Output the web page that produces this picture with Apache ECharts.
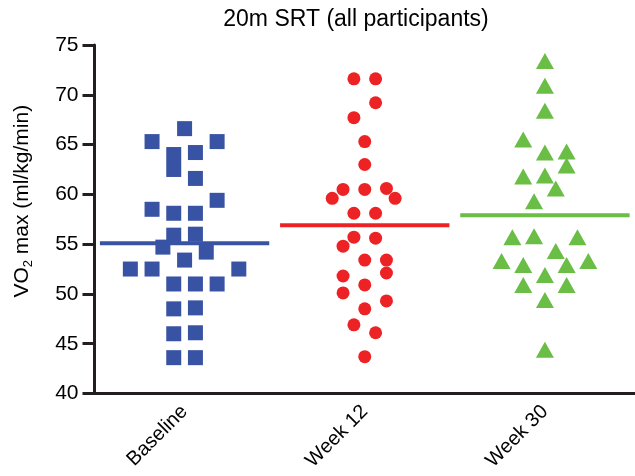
<!DOCTYPE html>
<html>
<head>
<meta charset="utf-8">
<script src="https://cdn.jsdelivr.net/npm/echarts@6/dist/echarts.min.js"></script>
<style>
  html, body { margin: 0; padding: 0; background: #fff; }
  #chart { width: 635px; height: 476px; }
</style>
</head>
<body>
<div id="chart"></div>
<script>
// groups on the x axis
var categories = ['Baseline', 'Week 12', 'Week 30'];

// y values, with the column (lane) each mark sits in
var baselineY = [66.6, 65.3, 65.3, 64.0, 62.5, 64.2, 61.6, 59.4, 58.5, 58.1, 58.1, 55.9, 56.0, 54.7,
                 54.2, 53.4, 52.5, 52.5, 52.5, 51.0, 51.0, 51.0, 48.5, 48.6, 46.0, 46.1, 43.6, 43.6];
var baselineLane = [0, -3, 3, -1, -1, 1, 1, 3, -3, -1, 1, -1, 1, -2,
                    2, 0, -5, -3, 5, -1, 1, 3, -1, 1, -1, 1, -1, 1];

var week12Y = [71.6, 71.6, 69.2, 67.7, 65.3, 63.0, 60.5, 60.5, 60.6, 59.6, 59.6, 58.1, 58.1, 55.7,
               55.6, 54.8, 53.4, 53.4, 52.1, 51.8, 50.9, 50.1, 49.3, 48.5, 46.9, 46.1, 43.7];
var week12Lane = [-1, 1, 1, -1, 0, 0, -2, 0, 2, -3, 2.8, -1, 1, -1,
                  1, -2, 0, 2, 2, -2, 0, -2, 2, 0, -1, 1, 0];

var week30Y = [73.4, 70.9, 68.4, 65.5, 64.2, 64.3, 62.9, 61.8, 61.9, 60.6, 59.3, 55.7, 55.8, 55.7,
               54.3, 53.3, 52.9, 52.9, 53.3, 51.9, 50.9, 50.9, 49.4, 44.4];
var week30Lane = [0, 0, 0, -2, 0, 2, 2, -2, 0, 1, -1, -3, -1, 3,
                  1, -4, -2, 2, 4, 0, -2, 2, 0, 0];

// group means (horizontal bars)
var means = [55.1, 56.9, 57.9];

// y axis ticks
var yMin = 40, yMax = 75, yStep = 5;

var LANE_W = 0.0602;   // one jitter column, in category units
var MEAN_HALF = 0.47;
var colors = ['#3953a4', '#ed2224', '#6abd45'];
var symbols = ['rect', 'circle', 'triangle'];
var sizes = [15, 13, [18, 16]];
var AXIS = '#231f20';
var FONT = 'Liberation Sans, Arial, Helvetica, sans-serif';

function points(ci, ys, lanes) {
    var out = [];
    for (var i = 0; i < ys.length; i++) {
        out.push([ci + 0.5 + lanes[i] * LANE_W, ys[i]]);
    }
    return out;
}

var groups = [[baselineY, baselineLane], [week12Y, week12Lane], [week30Y, week30Lane]];
var series = [];
groups.forEach(function (g, ci) {
    series.push({
        type: 'scatter',
        xAxisIndex: 1,
        data: points(ci, g[0], g[1]),
        symbol: symbols[ci],
        symbolSize: sizes[ci],
        itemStyle: { color: colors[ci], opacity: 1 },
        silent: true,
        z: 3
    });
    series.push({
        type: 'line',
        xAxisIndex: 1,
        data: [[ci + 0.5 - MEAN_HALF, means[ci]], [ci + 0.5 + MEAN_HALF, means[ci]]],
        symbol: 'none',
        lineStyle: { color: colors[ci], width: 4 },
        silent: true,
        z: 2
    });
});

var chart = echarts.init(document.getElementById('chart'));
chart.setOption({
    animation: false,
    title: {
        text: '20m SRT (all participants)',
        left: 351,
        textAlign: 'center',
        top: 3,
        textStyle: { fontFamily: FONT, fontSize: 23, fontWeight: 'normal', color: '#000' }
    },
    grid: { left: 94.5, top: 45, width: 543, height: 348.5 },
    xAxis: [{
        type: 'category',
        data: categories,
        boundaryGap: true,
        axisLine: { lineStyle: { color: AXIS, width: 3 } },
        axisTick: { show: false },
        axisLabel: {
            rotate: 45,
            margin: 15,
            fontFamily: FONT,
            fontSize: 20,
            color: '#000'
        },
        splitLine: { show: false }
    }, {
        type: 'value',
        min: 0,
        max: 3,
        show: false
    }],
    yAxis: {
        type: 'value',
        min: yMin,
        max: yMax,
        interval: yStep,
        name: '{n|VO}{s|2}{n| max (ml/kg/min)}',
        nameLocation: 'middle',
        nameGap: 60,
        nameRotate: 90,
        nameTextStyle: {
            padding: [0, 0, 0, 36],
            rich: {
                n: { fontFamily: FONT, fontSize: 21, color: '#000', lineHeight: 24 },
                s: { fontFamily: FONT, fontSize: 13, color: '#000', verticalAlign: 'bottom', lineHeight: 15 }
            }
        },
        axisLine: { show: true, lineStyle: { color: AXIS, width: 3 } },
        axisTick: { show: true, length: 12, lineStyle: { color: AXIS, width: 3 } },
        axisLabel: { margin: 16, fontFamily: FONT, fontSize: 21, color: '#000' },
        splitLine: { show: false }
    },
    series: series
});
</script>
</body>
</html>
